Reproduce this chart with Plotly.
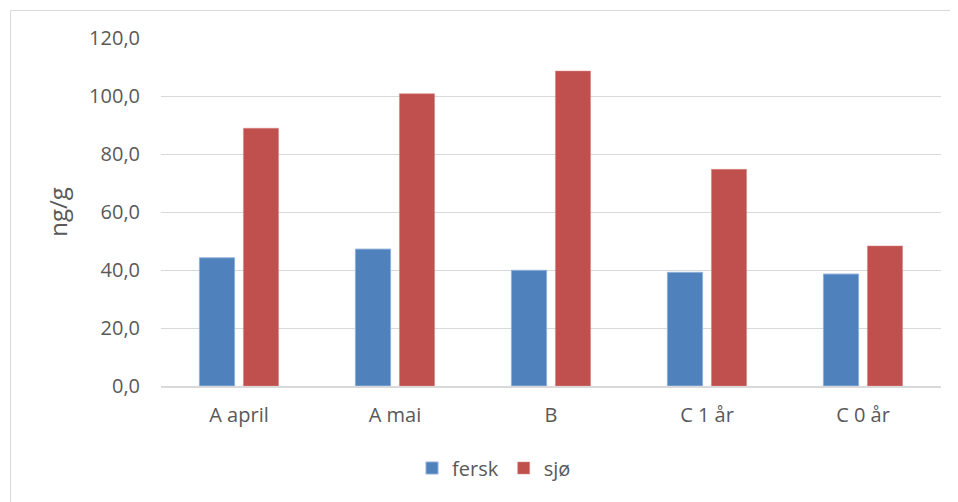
import plotly.graph_objects as go

categories = ["A april", "A mai", "B", "C 1 år", "C 0 år"]
fersk = [44.2, 47.2, 39.9, 39.2, 38.6]
sjo = [88.9, 100.8, 108.6, 74.7, 48.3]
y_ticks = [0, 20, 40, 60, 80, 100, 120]

fig = go.Figure()
fig.add_trace(go.Bar(name="fersk", x=categories, y=fersk,
                     marker=dict(color="#4F81BD", line=dict(color="#8EB0DA", width=1))))
fig.add_trace(go.Bar(name="sjø", x=categories, y=sjo,
                     marker=dict(color="#C0504D", line=dict(color="#D98A88", width=0.5))))

# page offset of the plotly div (default body margin)
OFF = 8
W, H = 958 - OFF, 502 - OFF
# plot area in page coordinates
L, R, T, B = 161, 941, 38, 386
ml, mt = L - OFF, T - OFF
mr, mb = 958 - R, 502 - B
pw, ph = R - L, B - T

def px(x):
    return (x - L) / pw

def py(y):
    return (B - y) / ph

font_fam = "Open Sans, Liberation Sans, sans-serif"
fig.update_layout(
    width=W, height=H,
    margin=dict(l=ml, r=mr, t=mt, b=mb),
    paper_bgcolor="white", plot_bgcolor="white",
    barmode="group", bargap=0.436, bargroupgap=0.2,
    separators=", ",
    font=dict(family=font_fam, size=20, color="#595959"),
    showlegend=True,
    legend=dict(orientation="h", x=px(494), xanchor="center", y=py(468), yanchor="middle",
                font=dict(size=20, color="#595959"), itemwidth=30, traceorder="normal"),
    xaxis=dict(showgrid=False, showline=True, linecolor="#D9D9D9", linewidth=1.5,
               ticks="", ticklabelstandoff=10, tickfont=dict(size=20, color="#595959")),
    yaxis=dict(range=[0, 120], tickvals=y_ticks, tickformat=".1f", showgrid=True,
               gridcolor="#D9D9D9", gridwidth=1, zeroline=False, showline=False,
               ticks="", ticklabelstandoff=20,
               tickfont=dict(size=20, color="#595959"),
               title=dict(text="ng/g", font=dict(size=24, color="#595959"), standoff=14)),
    shapes=[dict(type="rect", xref="paper", yref="paper", x0=px(10.5), x1=px(950.5),
                 y0=py(520), y1=py(10.5), line=dict(color="#D9D9D9", width=1), layer="below")],
)
fig.write_html("out.html")
